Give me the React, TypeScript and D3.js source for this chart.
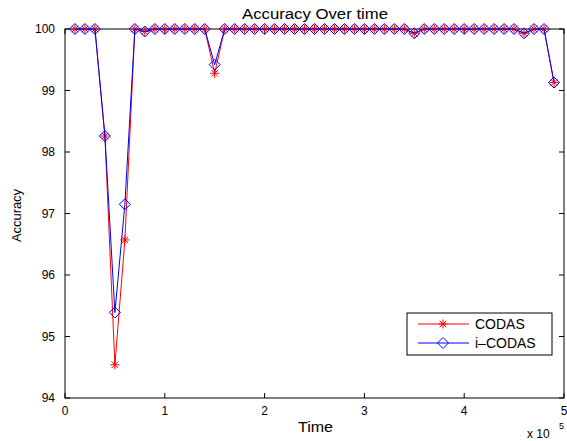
import React from "react";
import * as d3 from "d3";

const times = [
  0.1, 0.2, 0.3, 0.4, 0.5, 0.6, 0.7, 0.8, 0.9, 1.0,
  1.1, 1.2, 1.3, 1.4, 1.5, 1.6, 1.7, 1.8, 1.9, 2.0,
  2.1, 2.2, 2.3, 2.4, 2.5, 2.6, 2.7, 2.8, 2.9, 3.0,
  3.1, 3.2, 3.3, 3.4, 3.5, 3.6, 3.7, 3.8, 3.9, 4.0,
  4.1, 4.2, 4.3, 4.4, 4.5, 4.6, 4.7, 4.8, 4.9,
];

const codas = [
  100, 100, 100, 98.26, 94.54, 96.57, 100, 99.96, 100, 100,
  100, 100, 100, 100, 99.28, 100, 100, 100, 100, 100,
  100, 100, 100, 100, 100, 100, 100, 100, 100, 100,
  100, 100, 100, 100, 99.93, 100, 100, 100, 100, 100,
  100, 100, 100, 100, 100, 99.93, 100, 100, 99.13,
];

const icodas = [
  100, 100, 100, 98.26, 95.39, 97.15, 100, 99.96, 100, 100,
  100, 100, 100, 100, 99.42, 100, 100, 100, 100, 100,
  100, 100, 100, 100, 100, 100, 100, 100, 100, 100,
  100, 100, 100, 100, 99.93, 100, 100, 100, 100, 100,
  100, 100, 100, 100, 100, 99.93, 100, 100, 99.13,
];

const xTicks = [0, 1, 2, 3, 4, 5];
const yTicks = [94, 95, 96, 97, 98, 99, 100];

const W = 567;
const H = 441;
const L = 65, R = 564, T = 29, B = 398;
const FONT = "'Liberation Sans', Arial, Helvetica, sans-serif";

function Star({ x, y, color }: { x: number; y: number; color: string }) {
  const s = 4.5;
  const d = s * 0.72;
  return (
    <path
      d={`M${x - s},${y}H${x + s}M${x},${y - s}V${y + s}M${x - d},${y - d}L${x + d},${y + d}M${x - d},${y + d}L${x + d},${y - d}`}
      stroke={color}
      strokeWidth={1}
      fill="none"
    />
  );
}

function Diamond({ x, y, color }: { x: number; y: number; color: string }) {
  const s = 5.5;
  return (
    <path
      d={`M${x},${y - s}L${x + s},${y}L${x},${y + s}L${x - s},${y}Z`}
      stroke={color}
      strokeWidth={1}
      fill="none"
    />
  );
}

export default function App() {
  const x = d3.scaleLinear().domain([0, 5]).range([L, R]);
  const y = d3.scaleLinear().domain([94, 100]).range([B, T]);
  const line = d3
    .line<number>()
    .x((_, i) => x(times[i]))
    .y((v) => y(v));

  const red = "#ff0000";
  const blue = "#0000ff";
  const tk = 5;

  return (
    <svg
      width={W}
      height={H}
      style={{ position: "absolute", left: 0, top: 0, background: "#fff" }}
      fontFamily={FONT}
    >
      <rect x={0} y={0} width={W} height={H} fill="#fff" />
      {/* axes box */}
      <rect x={L} y={T} width={R - L} height={B - T} fill="none" stroke="#000" strokeWidth={1} />
      {/* ticks */}
      {xTicks.map((t) => (
        <g key={"xt" + t}>
          <line x1={x(t)} x2={x(t)} y1={B} y2={B - tk} stroke="#000" />
          <line x1={x(t)} x2={x(t)} y1={T} y2={T + tk} stroke="#000" />
          <text x={x(t)} y={415} textAnchor="middle" fontSize={12}>
            {t}
          </text>
        </g>
      ))}
      {yTicks.map((t) => (
        <g key={"yt" + t}>
          <line x1={L} x2={L + tk} y1={y(t)} y2={y(t)} stroke="#000" />
          <line x1={R} x2={R - tk} y1={y(t)} y2={y(t)} stroke="#000" />
          <text x={55} y={y(t) + 4.3} textAnchor="end" fontSize={12}>
            {t}
          </text>
        </g>
      ))}
      {/* series */}
      <path d={line(codas) || ""} stroke={red} strokeWidth={1} fill="none" />
      {codas.map((v, i) => (
        <Star key={"c" + i} x={x(times[i])} y={y(v)} color={red} />
      ))}
      <path d={line(icodas) || ""} stroke={blue} strokeWidth={1} fill="none" />
      {icodas.map((v, i) => (
        <Diamond key={"d" + i} x={x(times[i])} y={y(v)} color={blue} />
      ))}
      {/* title and labels */}
      <text x={315} y={19} textAnchor="middle" fontSize={14} textLength={146} lengthAdjust="spacingAndGlyphs">
        Accuracy Over time
      </text>
      <text x={315.5} y={432} textAnchor="middle" fontSize={14} textLength={35} lengthAdjust="spacingAndGlyphs">
        Time
      </text>
      <text
        transform="translate(21,215.5) rotate(-90)"
        textAnchor="middle"
        fontSize={13}
        textLength={53}
        lengthAdjust="spacingAndGlyphs"
      >
        Accuracy
      </text>
      <text x={527} y={437.5} fontSize={12}>
        x 10
      </text>
      <text x={559} y={429} fontSize={9}>
        5
      </text>
      {/* legend */}
      <rect x={407} y={313} width={145} height={42} fill="#fff" stroke="#000" strokeWidth={1} />
      <line x1={418} x2={469} y1={324} y2={324} stroke={red} />
      <Star x={443} y={324} color={red} />
      <text x={475} y={329} fontSize={14}>
        CODAS
      </text>
      <line x1={418} x2={469} y1={343} y2={343} stroke={blue} />
      <Diamond x={443} y={343} color={blue} />
      <text x={475} y={348} fontSize={14}>
        i–CODAS
      </text>
    </svg>
  );
}
